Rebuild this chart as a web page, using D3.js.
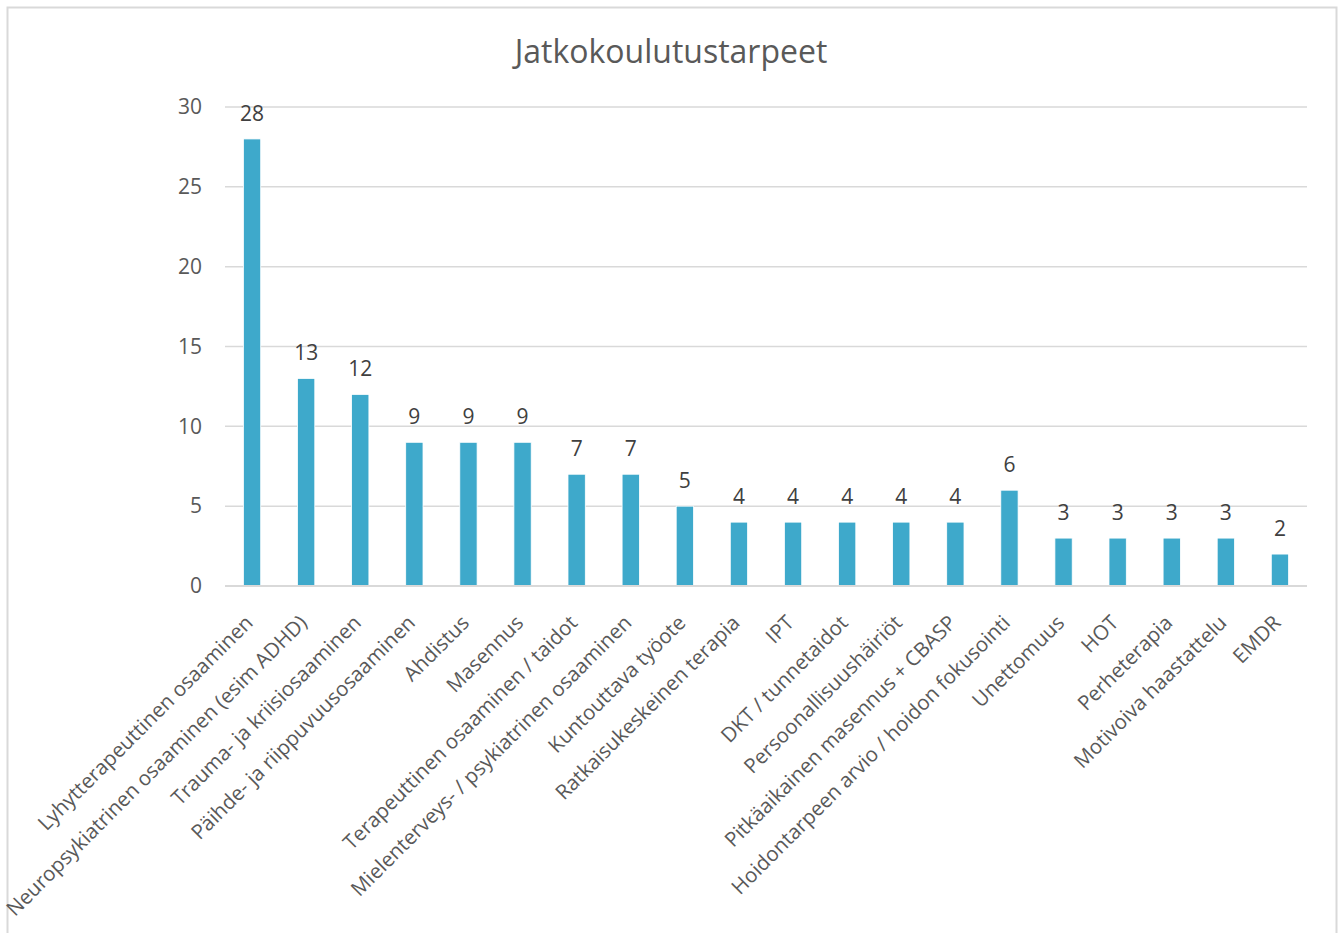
<!DOCTYPE html>
<html><head><meta charset="utf-8">
<script src="https://cdn.jsdelivr.net/npm/d3@7"></script>
<style>
html,body{margin:0;padding:0;background:#fff;}
text{font-family:"Open Sans","Noto Sans",sans-serif;}
</style></head>
<body>
<svg id="chart" width="1342" height="933"></svg>
<script>
const categories = [
  "Lyhytterapeuttinen osaaminen",
  "Neuropsykiatrinen osaaminen (esim ADHD)",
  "Trauma- ja kriisiosaaminen",
  "Päihde- ja riippuvuusosaaminen",
  "Ahdistus",
  "Masennus",
  "Terapeuttinen osaaminen / taidot",
  "Mielenterveys- / psykiatrinen osaaminen",
  "Kuntouttava työote",
  "Ratkaisukeskeinen terapia",
  "IPT",
  "DKT / tunnetaidot",
  "Persoonallisuushäiriöt",
  "Pitkäaikainen masennus + CBASP",
  "Hoidontarpeen arvio / hoidon fokusointi",
  "Unettomuus",
  "HOT",
  "Perheterapia",
  "Motivoiva haastattelu",
  "EMDR"
];
const values = [28, 13, 12, 9, 9, 9, 7, 7, 5, 4, 4, 4, 4, 4, 6, 3, 3, 3, 3, 2];
const yTicks = [0, 5, 10, 15, 20, 25, 30];
const title = "Jatkokoulutustarpeet";

const svg = d3.select("#chart");
const plot = {left: 225, right: 1307, top: 107, bottom: 586};
const FONT = '"Open Sans","Noto Sans",sans-serif';

// outer border
svg.append("rect").attr("x", 7.5).attr("y", 7.5).attr("width", 1329).attr("height", 940)
  .attr("fill", "#fff").attr("stroke", "#d9d9d9").attr("stroke-width", 2);

svg.append("text").attr("x", 671).attr("y", 63).attr("text-anchor", "middle")
  .attr("font-size", 32).attr("fill", "#595959").text(title);

const x = d3.scaleBand().domain(categories).range([plot.left, plot.right]).paddingInner(0.68).paddingOuter(0.34);
const y = d3.scaleLinear().domain([0, 30]).range([plot.bottom, plot.top]);

// gridlines
svg.append("g").selectAll("line").data(yTicks).join("line")
  .attr("x1", plot.left).attr("x2", plot.right)
  .attr("y1", d => y(d)).attr("y2", d => y(d))
  .attr("stroke", "#d9d9d9").attr("stroke-width", 1.5);

// y axis labels
const yAxis = d3.axisLeft(y).tickValues(yTicks).tickSize(0).tickPadding(0);
const ya = svg.append("g").attr("transform", `translate(${plot.left - 23},0)`).call(yAxis);
ya.select(".domain").remove();
ya.selectAll("text").attr("font-size", 21).attr("fill", "#595959").style("font-family", FONT);

// bars
svg.append("g").selectAll("rect").data(values).join("rect")
  .attr("x", (d, i) => x(categories[i]))
  .attr("width", x.bandwidth())
  .attr("y", d => y(d))
  .attr("height", d => y(0) - y(d))
  .attr("fill", "#3EA9CB")
  .attr("stroke", "#fff").attr("stroke-width", 0.8);

// data labels
svg.append("g").selectAll("text").data(values).join("text")
  .attr("x", (d, i) => x(categories[i]) + x.bandwidth() / 2)
  .attr("y", d => y(d) - 18)
  .attr("text-anchor", "middle")
  .attr("font-size", 21).attr("fill", "#404040")
  .text(d => d);

// baseline
svg.append("line").attr("x1", plot.left).attr("x2", plot.right)
  .attr("y1", y(0)).attr("y2", y(0)).attr("stroke", "#d9d9d9").attr("stroke-width", 2);

// x axis labels
const xAxis = d3.axisBottom(x).tickSize(0).tickPadding(0);
const xa = svg.append("g").attr("transform", `translate(0,${plot.bottom})`).call(xAxis);
xa.select(".domain").remove();
xa.selectAll("text")
  .style("font-family", FONT)
  .attr("font-size", 20.5).attr("fill", "#595959")
  .attr("text-anchor", "end")
  .attr("dy", "0.35em")
  .attr("transform", "translate(-3,33) rotate(-45)")
  .attr("y", 0).attr("x", 0);
</script>
</body></html>
